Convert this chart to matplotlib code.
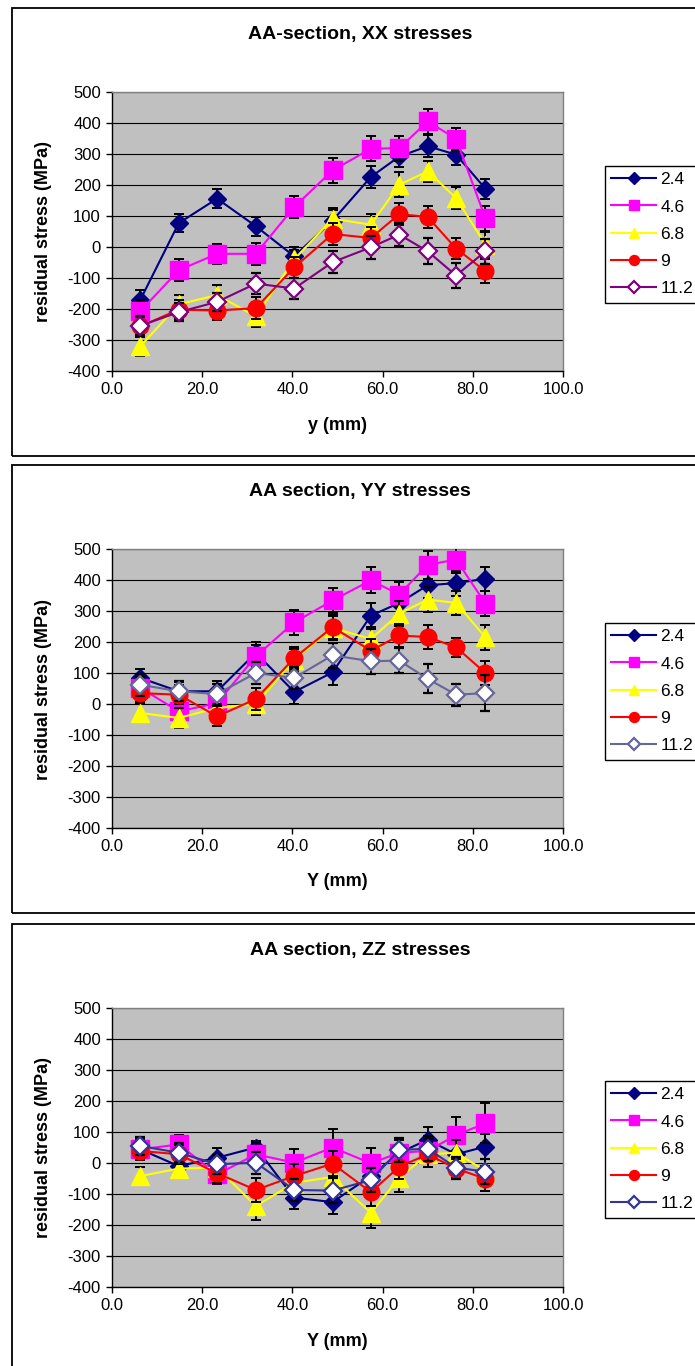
import matplotlib.pyplot as plt
from matplotlib.patches import Rectangle
from matplotlib.lines import Line2D
from matplotlib.ticker import FormatStrFormatter

plt.rcParams['font.family'] = ['Liberation Sans', 'DejaVu Sans']
plt.rcParams['axes.unicode_minus'] = False

W, H = 695, 1366

# positions along the section (mm)
y_pos = [6.3, 14.8, 23.3, 31.9, 40.4, 48.9, 57.4, 63.7, 70.0, 76.3, 82.8]
depths = ['2.4', '4.6', '6.8', '9', '11.2']

# XX stresses
xx_24 = [-170, 77, 156, 67, -30, 85, 226, 292, 325, 298, 188]
xx_46 = [-207, -75, -22, -22, 129, 247, 317, 319, 405, 349, 93]
xx_68 = [-320, -185, -155, -224, -40, 91, 72, 201, 244, 158, 8]
xx_90 = [-256, -202, -205, -197, -66, 42, 29, 106, 97, -5, -78]
xx_112 = [-254, -210, -177, -118, -134, -49, -1, 40, -14, -92, -14]
xx_24_err = [30, 30, 30, 30, 30, 35, 35, 35, 35, 35, 32]
xx_46_err = [35, 35, 32, 35, 35, 40, 40, 40, 40, 35, 40]
xx_68_err = [30, 30, 32, 35, 30, 35, 35, 40, 35, 35, 40]
xx_90_err = [30, 30, 30, 35, 35, 35, 35, 35, 35, 35, 38]
xx_112_err = [30, 30, 30, 35, 35, 35, 38, 38, 42, 40, 40]

# YY stresses
yy_24 = [84, 41, 41, 165, 39, 102, 285, 326, 383, 390, 404]
yy_46 = [52, -24, 3, 154, 263, 334, 399, 353, 449, 466, 324]
yy_68 = [-29, -45, -13, 0, 143, 245, 210, 291, 337, 326, 215]
yy_90 = [35, 30, -40, 16, 148, 248, 172, 221, 216, 183, 100]
yy_112 = [62, 41, 32, 100, 84, 157, 138, 140, 81, 30, 35]
yy_24_err = [30, 30, 32, 35, 40, 40, 42, 40, 40, 40, 38]
yy_46_err = [35, 35, 35, 35, 40, 40, 42, 40, 45, 45, 40]
yy_68_err = [30, 32, 32, 35, 35, 40, 40, 40, 40, 40, 40]
yy_90_err = [30, 30, 32, 35, 35, 38, 38, 38, 38, 30, 40]
yy_112_err = [35, 32, 32, 35, 35, 40, 40, 40, 47, 35, 59]

# ZZ stresses
zz_24 = [44, -10, 17, 50, -112, -126, -42, 33, 75, 28, 53]
zz_46 = [44, 60, -37, 28, 1, 50, -1, 33, 39, 90, 128]
zz_68 = [-42, -18, -15, -139, -64, -45, -161, -48, 28, 33, -26]
zz_90 = [39, 28, -33, -87, -42, -2, -94, -12, 28, -18, -51]
zz_112 = [55, 33, -4, 1, -87, -89, -55, 42, 46, -15, -28]
zz_24_err = [30, 30, 30, 20, 35, 40, 40, 40, 40, 40, 40]
zz_46_err = [35, 30, 30, 35, 45, 60, 50, 40, 40, 60, 64]
zz_68_err = [30, 30, 30, 45, 40, 45, 48, 45, 40, 40, 40]
zz_90_err = [30, 30, 30, 40, 40, 40, 45, 40, 40, 30, 40]
zz_112_err = [30, 30, 30, 35, 35, 40, 40, 40, 40, 35, 40]

colors = ['#000080', '#FF00FF', '#FFFF00', '#FF0000']
markers = [('D', 9.5), ('s', 13), ('^', 13), ('o', 12)]


def fx(px):
    return px / W


def fy(py):
    return 1 - py / H


fig = plt.figure(figsize=(W / 100, H / 100), dpi=100)


def panel(top_px, title, xlabel, series, errs, open_color, leg_top):
    box_top = top_px - 84
    fig.add_artist(Rectangle((fx(12), fy(box_top + 448)), 1.2, 448 / H,
                             transform=fig.transFigure, fill=False,
                             ec='black', lw=1.3, zorder=0))
    ax = fig.add_axes([fx(112), fy(top_px + 279), fx(563) - fx(112), 279 / H])
    ax.set_facecolor('#C0C0C0')
    handles = []
    for i, (vals, err) in enumerate(zip(series, errs)):
        if i < 4:
            m, ms = markers[i]
            style = dict(color=colors[i], lw=1.5, marker=m, ms=ms,
                         mfc=colors[i], mec=colors[i])
        else:
            style = dict(color=open_color, lw=1.5, marker='D', ms=9.5,
                         mfc='white', mec=open_color, mew=1.6)
        ax.errorbar(y_pos, vals, yerr=err, ecolor='black', elinewidth=1.4,
                    capsize=3.3, capthick=1.4, zorder=3 + i, **style)
        lg = dict(style)
        lg['ms'] = style['ms'] * 0.6
        handles.append(Line2D([], [], label=depths[i], **lg))
    ax.set_xlim(0, 100)
    ax.set_ylim(-400, 500)
    ax.set_xticks(range(0, 101, 20))
    ax.set_yticks(range(-400, 501, 100))
    ax.xaxis.set_major_formatter(FormatStrFormatter('%.1f'))
    ax.grid(axis='y', color='black', lw=0.8)
    ax.set_axisbelow(True)
    for s in ['top', 'right']:
        ax.spines[s].set_color('#808080')
        ax.spines[s].set_linewidth(1)
    for s in ['left', 'bottom']:
        ax.spines[s].set_color('black')
        ax.spines[s].set_linewidth(1)
    ax.tick_params(direction='out', length=4, width=1, labelsize=12, pad=4)
    fig.text(fx(360), fy(box_top + 27), title, ha='center', va='center',
             fontsize=14, fontweight='bold')
    fig.text(fx(337), fy(top_px + 333), xlabel, ha='center', va='center',
             fontsize=13, fontweight='bold')
    fig.text(fx(44), fy(top_px + 140), 'residual stress (MPa)', ha='center',
             va='center', rotation=90, fontsize=13, fontweight='bold')
    leg = ax.legend(handles=handles, loc='upper left',
                    bbox_to_anchor=(fx(605), fy(leg_top)),
                    bbox_transform=fig.transFigure, borderaxespad=0,
                    frameon=True, fancybox=False, edgecolor='black',
                    framealpha=1, fontsize=12.5,
                    handlelength=2.6, handletextpad=0.25, borderpad=0.35,
                    labelspacing=0.7)
    leg.get_frame().set_linewidth(1)
    return ax


panel(92, 'AA-section, XX stresses', 'y (mm)',
      [xx_24, xx_46, xx_68, xx_90, xx_112],
      [xx_24_err, xx_46_err, xx_68_err, xx_90_err, xx_112_err],
      '#800080', 166)
panel(549, 'AA section, YY stresses', 'Y (mm)',
      [yy_24, yy_46, yy_68, yy_90, yy_112],
      [yy_24_err, yy_46_err, yy_68_err, yy_90_err, yy_112_err],
      '#666699', 623)
panel(1008, 'AA section, ZZ stresses', 'Y (mm)',
      [zz_24, zz_46, zz_68, zz_90, zz_112],
      [zz_24_err, zz_46_err, zz_68_err, zz_90_err, zz_112_err],
      '#333399', 1081)

fig.savefig('out.png', dpi=100)
